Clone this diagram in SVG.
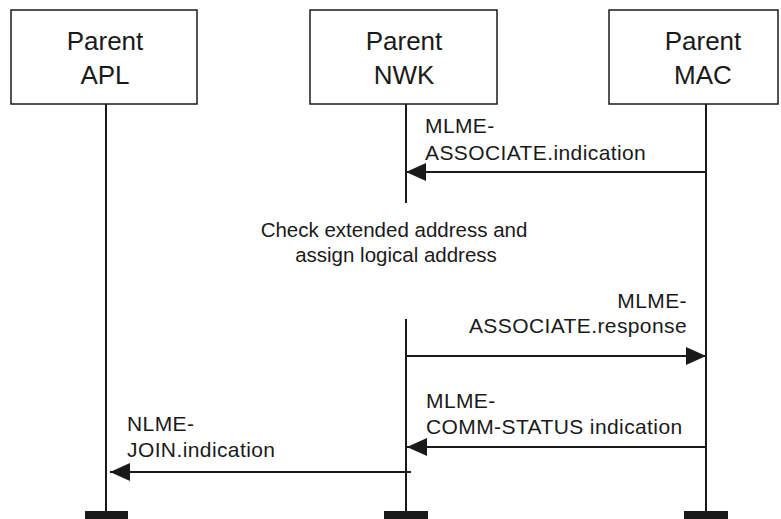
<svg xmlns="http://www.w3.org/2000/svg" width="781" height="519" viewBox="0 0 781 519">
<style>
.box{fill:#fff;stroke:#1a1a1a;stroke-width:1.5}
.life{stroke:#1a1a1a;stroke-width:2;fill:none}
.msg{stroke:#1a1a1a;stroke-width:2;fill:none}
.bar{fill:#1a1a1a}
.t{font-family:"Liberation Sans",Arial,sans-serif;fill:#1a1a1a}
.h{font-size:26px;text-anchor:middle}
.l{font-size:21px;letter-spacing:0.4px}
.n{font-size:20.5px;text-anchor:middle}
</style>
<defs>
<marker id="ah" markerUnits="userSpaceOnUse" markerWidth="20" markerHeight="20" viewBox="0 0 20 20" refX="20" refY="10" orient="auto">
<path d="M0,1 L20,10 L0,19 Z" fill="#1a1a1a"/>
</marker>
</defs>
<g id="apl">
<rect class="box" x="11" y="10" width="186" height="94"/>
<text class="t h" x="105" y="50">Parent</text>
<text class="t h" x="105" y="84">APL</text>
<line class="life" x1="106" y1="104" x2="106" y2="511"/>
<rect class="bar" x="85" y="511" width="43" height="8"/>
</g>
<g id="nwk">
<rect class="box" x="310" y="10" width="187" height="94"/>
<text class="t h" x="404" y="50">Parent</text>
<text class="t h" x="404" y="84">NWK</text>
<line class="life" x1="406" y1="104" x2="406" y2="203"/>
<line class="life" x1="406" y1="319" x2="406" y2="511"/>
<rect class="bar" x="384" y="511" width="44" height="8"/>
</g>
<g id="mac">
<rect class="box" x="609" y="10" width="169" height="94"/>
<text class="t h" x="703" y="50">Parent</text>
<text class="t h" x="703" y="84">MAC</text>
<line class="life" x1="706" y1="104" x2="706" y2="511"/>
<rect class="bar" x="684" y="511" width="44" height="8"/>
</g>
<g id="note">
<text class="t n" x="394" y="237">Check extended address and</text>
<text class="t n" x="396" y="262">assign logical address</text>
</g>
<g id="connectors">
<line class="msg" x1="706" y1="172" x2="406" y2="172" marker-end="url(#ah)"/>
<line class="msg" x1="406" y1="356" x2="706" y2="356" marker-end="url(#ah)"/>
<line class="msg" x1="706" y1="447" x2="407" y2="447" marker-end="url(#ah)"/>
<line class="msg" x1="411" y1="472" x2="110" y2="472" marker-end="url(#ah)"/>
</g>
<g id="labels">
<text class="t l" x="425" y="133">MLME-</text>
<text class="t l" x="425" y="160">ASSOCIATE.indication</text>
<text class="t l" x="687" y="308" text-anchor="end">MLME-</text>
<text class="t l" x="687" y="333" text-anchor="end">ASSOCIATE.response</text>
<text class="t l" x="426" y="408">MLME-</text>
<text class="t l" x="426" y="434">COMM-STATUS indication</text>
<text class="t l" x="127" y="431">NLME-</text>
<text class="t l" x="127" y="457">JOIN.indication</text>
</g>
</svg>
